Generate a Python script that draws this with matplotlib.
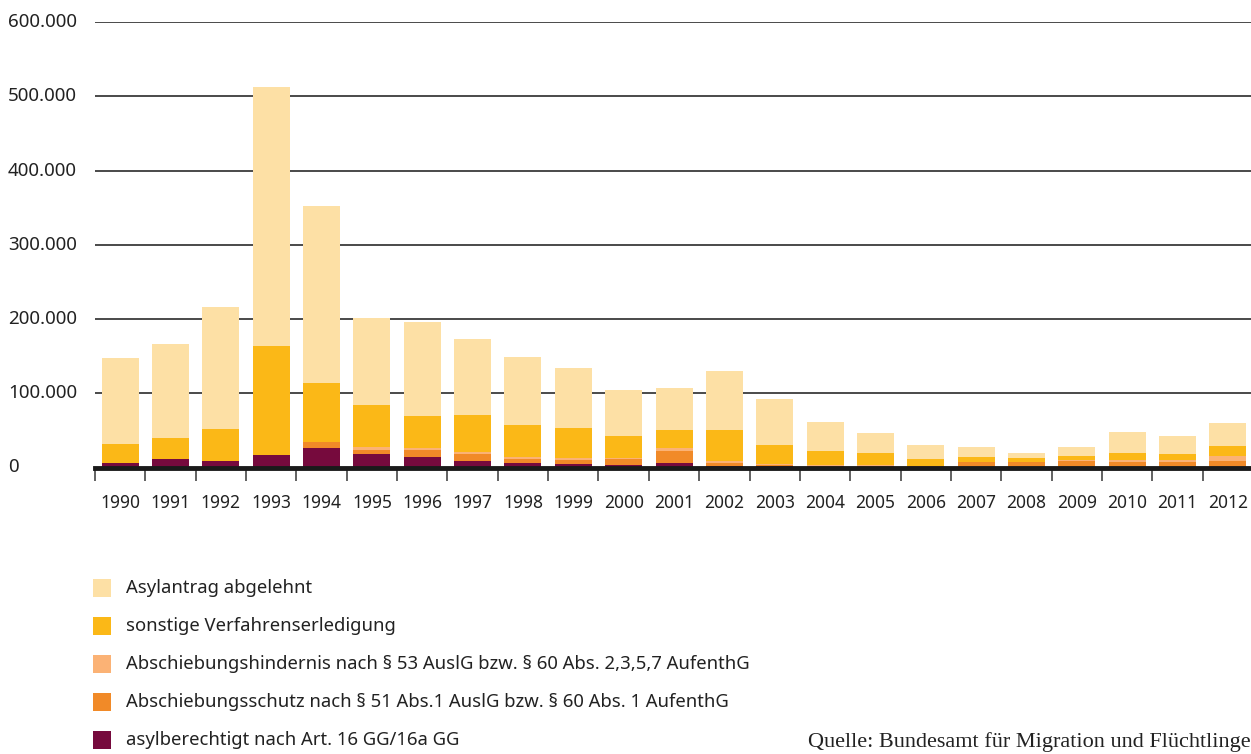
import matplotlib
matplotlib.use("Agg")
import matplotlib.pyplot as plt
from matplotlib.patches import Rectangle
from matplotlib.transforms import blended_transform_factory
import numpy as np

years = [str(y) for y in range(1990, 2013)]

asylberechtigt = [6500, 11600, 9200, 16400, 25600, 18100, 14400, 8400, 5900, 4100, 3100,
                  5700, 2400, 1500, 1000, 400, 250, 300, 230, 450, 640, 650, 740]
abschiebungsschutz = [0, 0, 0, 0, 9400, 5400, 9600, 9800, 5400, 6100, 8300,
                      17000, 4100, 1600, 1100, 2050, 1100, 6900, 7100, 7700, 7100, 6400, 8000]
abschiebungshindernis = [0, 0, 0, 0, 0, 3600, 2100, 2800, 2500, 2100, 1600,
                         3400, 1600, 1600, 960, 660, 600, 670, 560, 1600, 2700, 2600, 7000]
sonstige = [25500, 27500, 42700, 147400, 79000, 56900, 43300, 49800, 43500, 40700, 29500,
            24400, 42400, 25600, 19100, 16400, 9500, 6300, 4900, 5750, 9100, 8500, 13300]
abgelehnt = [115500, 127900, 163600, 349200, 238500, 118000, 127100, 102200, 91700, 81500, 62500,
             56000, 79500, 62500, 39300, 27500, 19000, 13800, 7200, 12500, 28500, 24800, 31500]

series = [
    ("asylberechtigt nach Art. 16 GG/16a GG", asylberechtigt, "#760a3d"),
    ("Abschiebungsschutz nach § 51 Abs.1 AuslG bzw. § 60 Abs. 1 AufenthG", abschiebungsschutz, "#f18a28"),
    ("Abschiebungshindernis nach § 53 AuslG bzw. § 60 Abs. 2,3,5,7 AufenthG", abschiebungshindernis, "#fbb275"),
    ("sonstige Verfahrenserledigung", sonstige, "#fbb817"),
    ("Asylantrag abgelehnt", abgelehnt, "#fde0a5"),
]

yticks = [0, 100000, 200000, 300000, 400000, 500000, 600000]
ytick_labels = ["0", "100.000", "200.000", "300.000", "400.000", "500.000", "600.000"]

plt.rcParams["font.family"] = ["Noto Sans", "DejaVu Sans"]

W, H = 1251, 754
fig = plt.figure(figsize=(W / 100, H / 100), dpi=100)
ax = fig.add_axes([95 / W, 1 - 467.5 / H, 1 - 95 / W, (467.5 - 22) / H])

x = np.arange(len(years))
bottom = np.zeros(len(years))
for label, vals, col in series:
    v = np.array(vals, dtype=float)
    ax.bar(x, v, bottom=bottom, width=0.735, color=col, label=label, zorder=3, linewidth=0)
    bottom += v

ax.set_xlim(-0.5, 22.46)
ax.set_ylim(0, 600000)

for yv in yticks[1:]:
    ax.axhline(yv, color="#2b2b2b", linewidth=1.2, zorder=1)
ax.axhline(0, color="#1a1a1a", linewidth=3.5, zorder=4, clip_on=False)

for s in ax.spines.values():
    s.set_visible(False)

ax.set_yticks(yticks)
ax.set_yticklabels([])
ax.tick_params(axis="y", length=0)
ytrans = blended_transform_factory(fig.transFigure, ax.transData)
for yv, lab in zip(yticks, ytick_labels):
    ax.text(8 / W, yv, lab, transform=ytrans, ha="left", va="center",
            fontsize=13.5, color="#222222", clip_on=False)

ax.set_xticks(x)
ax.set_xticklabels(years, fontsize=12.5, color="#222222")
ax.tick_params(axis="x", length=0, pad=19)
ax.set_xticks(np.arange(-0.5, 22.5, 1.0), minor=True)
ax.tick_params(axis="x", which="minor", length=9, width=1.3, color="#555555", direction="out")

# legend (top to bottom)
leg_y = [588, 626, 664, 702, 740]
for (label, vals, col), yy in zip(series[::-1], leg_y):
    fig.add_artist(Rectangle((93 / W, 1 - (yy + 9) / H), 18 / W, 18 / H,
                             transform=fig.transFigure, facecolor=col, edgecolor="none"))
    fig.text(126 / W, 1 - yy / H, label, ha="left", va="center", fontsize=13.3, color="#222222")

fig.text(808 / W, 1 - 742 / H, "Quelle: Bundesamt für Migration und Flüchtlinge",
         ha="left", va="center", fontsize=16, color="#222222",
         family=["Liberation Serif", "DejaVu Serif"])

fig.savefig("out.png", dpi=100)
